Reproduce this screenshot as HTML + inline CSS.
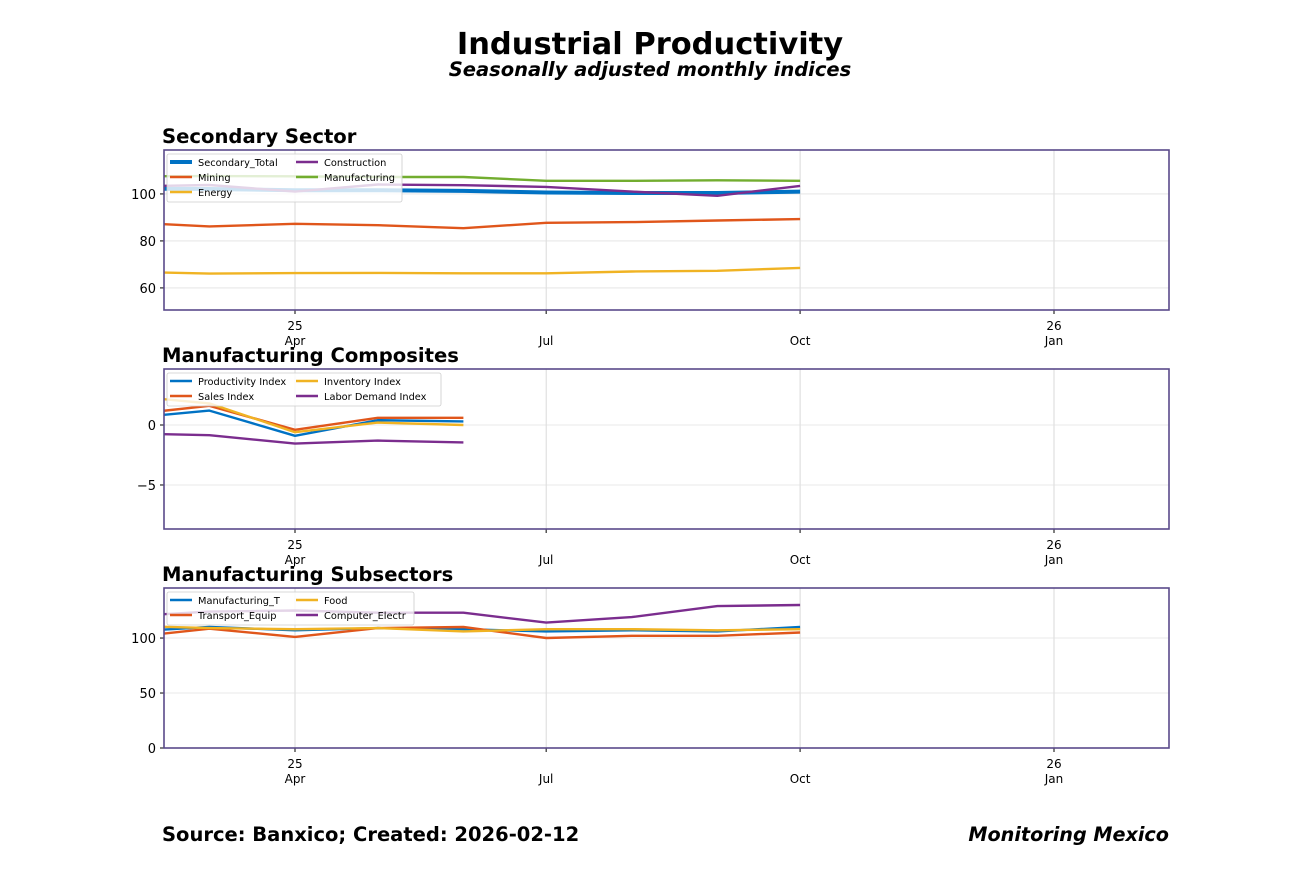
<!DOCTYPE html>
<html><head><meta charset="utf-8"><style>
body{margin:0;background:#fff;font-family:"Liberation Sans","DejaVu Sans",sans-serif;}
svg text{font-family:"DejaVu Sans","Liberation Sans",sans-serif;}
</style></head><body>
<svg id="c" width="1300" height="869" xmlns="http://www.w3.org/2000/svg">
<text x="650" y="54" text-anchor="middle" font-size="30.5" font-weight="bold">Industrial Productivity</text>
<text x="650" y="76" text-anchor="middle" font-size="19.5" font-weight="bold" font-style="italic">Seasonally adjusted monthly indices</text>
<text x="162" y="841" font-size="19.5" font-weight="bold">Source: Banxico; Created: 2026-02-12</text>
<text x="1169" y="841" text-anchor="end" font-size="19.2" font-weight="bold" font-style="italic">Monitoring Mexico</text>
</svg>
<script>
const months = ["2025-02","2025-03","2025-04","2025-05","2025-06","2025-07","2025-08","2025-09","2025-10"];
const tickDates = ["2025-04","2025-07","2025-10","2026-01"];
const tickTop = ["25","","","26"];
const tickBottom = ["Apr","Jul","Oct","Jan"];
// Panel 1
const p1Names = ["Secondary_Total","Mining","Energy","Construction","Manufacturing"];
const secTotal = [102.3,102.1,101.6,101.6,101.3,100.6,100.4,100.4,101.0];
const mining = [87.8,86.2,87.3,86.7,85.4,87.7,88.0,88.7,89.3];
const energy = [66.8,66.1,66.3,66.4,66.2,66.2,67.0,67.3,68.5];
const construction = [103.2,103.8,101.0,104.0,103.7,103.0,101.0,99.2,103.4];
const manufacturing = [107.5,107.6,107.5,107.2,107.2,105.6,105.6,105.8,105.6];
const p1Ticks = [60,80,100];
// Panel 2
const p2Names = ["Productivity Index","Sales Index","Inventory Index","Labor Demand Index"];
const productivity = [0.6,1.2,-0.9,0.4,0.3];
const sales = [0.9,1.6,-0.4,0.6,0.6];
const inventory = [2.4,1.8,-0.6,0.2,0.0];
const laborDemand = [-0.7,-0.85,-1.55,-1.3,-1.45];
const p2Ticks = [-5,0];
// Panel 3
const p3Names = ["Manufacturing_T","Transport_Equip","Food","Computer_Electr"];
const manufT = [106,110,107,109,108,106,107,106,110];
const transport = [101,108.5,101,109,110,100,102,102,105];
const food = [111,109,108,109,106,108,108,107,108];
const computer = [120,124,125,123,123,114,119,129,130];
const p3Ticks = [0,50,100];

const NS="http://www.w3.org/2000/svg", svg=document.getElementById('c');
const C={blue:"#0072c4",orange:"#e0561b",yellow:"#f0b323",purple:"#7b2d8e",green:"#72ad2f"};
function d2n(s){const [y,m]=s.split('-').map(Number);return Date.UTC(y,m-1,1)/864e5;}
const x0=d2n("2025-04"), x1=d2n("2026-01");
function xs(s){return 295+(d2n(s)-x0)*(1054-295)/(x1-x0);}
function mk(tag,attrs,parent){const e=document.createElementNS(NS,tag);for(const k in attrs)e.setAttribute(k,attrs[k]);(parent||svg).appendChild(e);return e;}
let clipN=0;
function panel(key,title,top,ymin,ymax,ticks,series,names,legendW){
  const L=164,R=1169,T=top,B=top+160;
  const ys=v=>B-(v-ymin)/(ymax-ymin)*(B-T);
  const g=mk('g',{});
  
  
  const t=mk('text',{x:162,y:T-7,'font-size':19.6,'font-weight':'bold'},g);t.textContent=title;
  
  tickDates.forEach((d,i)=>{const x=xs(d);
    const gl=mk('line',{x1:x,x2:x,y1:T,y2:B,stroke:'#d0d0d0','stroke-width':0.8},g);
    
    mk('line',{x1:x,x2:x,y1:B,y2:B+4,stroke:'#000'},g);
    if(tickTop[i]){const a=mk('text',{x:x,y:B+20,'text-anchor':'middle','font-size':12},g);a.textContent=tickTop[i];
      }
    const b=mk('text',{x:x,y:B+35,'text-anchor':'middle','font-size':12},g);b.textContent=tickBottom[i];
    });
  ticks.forEach(v=>{const y=ys(v);
    const gl=mk('line',{x1:L,x2:R,y1:y,y2:y,stroke:'#e0e0e0','stroke-width':0.8},g);
    
    mk('line',{x1:L-4,x2:L,y1:y,y2:y,stroke:'#000'},g);
    const tt=mk('text',{x:L-8,y:y+5,'text-anchor':'end','font-size':13},g);tt.textContent=v<0?'\u2212'+(-v):v;
    });
  const cid='clip'+(clipN++);
  const cp=mk('clipPath',{id:cid},g);mk('rect',{x:L,y:T,width:R-L,height:B-T},cp);
  const lg=mk('g',{'clip-path':'url(#'+cid+')'},g);
  series.forEach((s,i)=>{const pts=s.vals.map((v,j)=>xs(months[j]).toFixed(1)+','+ys(v).toFixed(1)).join(' ');
    const p=mk('polyline',{points:pts,fill:'none',stroke:s.c,'stroke-width':s.w||2.4,'stroke-linejoin':'round'},lg);
    
    });
  const lgd=mk('g',{},g);
  const rows=Math.ceil(series.length/2);
  mk('rect',{x:L+3,y:T+4,width:legendW,height:rows*15+3,rx:2,fill:'rgba(255,255,255,0.8)',stroke:'#ccc','stroke-width':0.8},lgd);
  series.forEach((s,i)=>{const col=Math.floor(i/rows),row=i%rows;const colX=[L+6,L+6+126][col];
    const yy=T+12+row*15;
    mk('line',{x1:colX,x2:colX+22,y1:yy,y2:yy,stroke:s.c,'stroke-width':s.w||2.4},lgd);
    const lt=mk('text',{x:colX+28,y:yy+4,'font-size':9.8},lgd);lt.textContent=names[i];
    });
  const fr=mk('rect',{x:L,y:T,width:R-L,height:B-T,fill:'none',stroke:'#5a4a8a','stroke-width':1.6},g);
  
}
panel('secondary-sector','Secondary Sector',150,50.6,118.7,p1Ticks,[
 {vals:secTotal,c:C.blue,w:4},{vals:mining,c:C.orange},{vals:energy,c:C.yellow},
 {vals:construction,c:C.purple},{vals:manufacturing,c:C.green}],p1Names,235);
panel('manufacturing-composites','Manufacturing Composites',369,-8.67,4.67,p2Ticks,[
 {vals:productivity,c:C.blue},{vals:sales,c:C.orange},{vals:inventory,c:C.yellow},{vals:laborDemand,c:C.purple}],p2Names,274);
panel('manufacturing-subsectors','Manufacturing Subsectors',588,0,145.5,p3Ticks,[
 {vals:manufT,c:C.blue},{vals:transport,c:C.orange},{vals:food,c:C.yellow},{vals:computer,c:C.purple}],p3Names,247);
</script>
</body></html>
